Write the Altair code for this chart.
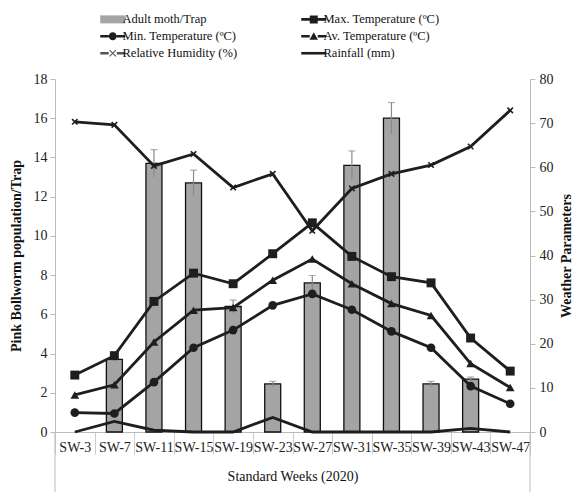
import altair as alt
import pandas as pd

# Standard weeks of 2020
weeks = ["SW-3", "SW-7", "SW-11", "SW-15", "SW-19", "SW-23",
         "SW-27", "SW-31", "SW-35", "SW-39", "SW-43", "SW-47"]

# Pink bollworm catches (left axis) with standard error
moth = [0, 3.7, 13.7, 12.7, 6.4, 2.45, 7.6, 13.6, 16.0, 2.45, 2.7, 0]
moth_err = [0, 0.1, 0.7, 0.65, 0.33, 0.13, 0.38, 0.73, 0.8, 0.13, 0.1, 0]

# Weather parameters (right axis)
max_temp = [12.9, 17.3, 29.6, 36.0, 33.6, 40.4, 47.4, 39.8, 35.2, 33.8, 21.3, 13.8]
min_temp = [4.4, 4.2, 11.3, 19.1, 23.1, 28.7, 31.3, 27.7, 22.8, 19.1, 10.4, 6.4]
av_temp = [8.4, 10.7, 20.4, 27.6, 28.2, 34.4, 39.2, 33.6, 29.1, 26.4, 15.5, 10.1]
rel_hum = [70.3, 69.6, 60.3, 63.0, 55.4, 58.5, 45.6, 55.2, 58.5, 60.5, 64.7, 72.9]
rainfall = [0, 2.4, 0.4, 0, 0, 3.3, 0, 0, 0, 0, 0.8, 0]

S_MOTH = "Adult moth/Trap"
S_MAX = "Max. Temperature (ºC)"
S_MIN = "Min. Temperature (ºC)"
S_AV = "Av. Temperature (ºC)"
S_RH = "Relative Humidity (%)"
S_RAIN = "Rainfall (mm)"
# legend fills column by column: left column, then right column
legend_order = [S_MOTH, S_MIN, S_RH, S_MAX, S_AV, S_RAIN]

FONT = "Liberation Serif"
INK = "#1e1e1e"
FRAME = "#bbbbbb"
W, H = 475, 353

moth_df = pd.DataFrame({"week": weeks, "moth": moth, "err": moth_err})
moth_df["lo"] = moth_df["moth"] - moth_df["err"]
moth_df["hi"] = moth_df["moth"] + moth_df["err"]

weather_df = pd.concat([
    pd.DataFrame({"week": weeks, "series": name, "value": vals})
    for name, vals in [(S_MAX, max_temp), (S_MIN, min_temp), (S_AV, av_temp),
                       (S_RH, rel_hum), (S_RAIN, rainfall)]
], ignore_index=True)

x_axis = alt.Axis(labelAngle=0, tickBand="extent", tickSize=22,
                  tickColor="#cccccc", domainColor=FRAME,
                  labelPadding=-14, titlePadding=15,
                  labelFont=FONT, titleFont=FONT,
                  labelFontSize=14, titleFontSize=14,
                  titleFontWeight="normal")
x_scale = alt.Scale(paddingInner=0, paddingOuter=0)


def xenc(**kw):
    return alt.X("week:N", sort=weeks, title="Standard Weeks (2020)",
                 scale=x_scale, axis=x_axis, **kw)


left_scale = alt.Scale(domain=[0, 18], nice=False)
right_scale = alt.Scale(domain=[0, 80], nice=False)
LEFT_TITLE = "Pink Bollworm population/Trap"
RIGHT_TITLE = "Weather Parameters"

left_axis = alt.Axis(orient="left", values=list(range(0, 19, 2)),
                     grid=False, tickSize=5, tickColor=FRAME,
                     domainColor=FRAME, labelPadding=3,
                     labelFont=FONT, titleFont=FONT,
                     labelFontSize=14, titleFontSize=14,
                     titleFontWeight="bold", titlePadding=10)
right_axis = alt.Axis(orient="right", values=list(range(0, 81, 10)),
                      grid=False, tickSize=5, tickColor=FRAME,
                      domainColor=FRAME, labelPadding=4,
                      labelFont=FONT, titleFont=FONT,
                      labelFontSize=14, titleFontSize=14,
                      titleFontWeight="bold", titleAngle=270,
                      titlePadding=20)


def yleft(field):
    return alt.Y(field, scale=left_scale, title=LEFT_TITLE, axis=left_axis)


def yright(field):
    return alt.Y(field, scale=right_scale, title=RIGHT_TITLE, axis=right_axis)


bars = alt.Chart(moth_df).transform_filter("datum.moth > 0").mark_bar(
    size=16, fill="#a4a4a4", stroke="#111111", strokeWidth=1.3
).encode(x=xenc(), y=yleft("moth:Q"))

err_rule = alt.Chart(moth_df).transform_filter("datum.err > 0").mark_rule(
    color="#8a8a8a", strokeWidth=1.2
).encode(x=xenc(), y=yleft("lo:Q"), y2="hi:Q")

err_cap = alt.Chart(moth_df).transform_filter("datum.err > 0").mark_tick(
    color="#8a8a8a", size=7, thickness=1.2
).encode(x=xenc(), y=yleft("hi:Q"))

# outer frame lines continuing below the category axis
frame_left = alt.Chart(pd.DataFrame({"week": [weeks[0]]})).mark_rule(
    color=FRAME, strokeWidth=1
).encode(x=xenc(bandPosition=0), y=alt.value(H), y2=alt.value(H + 60))
frame_right = alt.Chart(pd.DataFrame({"week": [weeks[-1]]})).mark_rule(
    color=FRAME, strokeWidth=1
).encode(x=xenc(bandPosition=1), y=alt.value(H), y2=alt.value(H + 60))

left = alt.layer(bars, err_rule, err_cap, frame_left, frame_right)

lines = alt.Chart(weather_df).mark_line(color=INK, strokeWidth=2.8).encode(
    x=xenc(), y=yright("value:Q"), detail="series:N",
)

marker_specs = [
    (S_MAX, dict(shape="square", filled=True, size=80, color=INK)),
    (S_MIN, dict(shape="circle", filled=True, size=75, color=INK)),
    (S_AV, dict(shape="triangle-up", filled=True, size=75, color=INK)),
    (S_RH, dict(shape="M-1,-1L1,1M-1,1L1,-1", filled=False, size=30,
                color=INK, strokeWidth=1.6)),
]
markers = [
    alt.Chart(weather_df).transform_filter(alt.datum.series == name)
    .mark_point(opacity=1, **style).encode(x=xenc(), y=yright("value:Q"))
    for name, style in marker_specs
]


# Legend glyphs (unit = 5 px): a line segment with the marker in the middle,
# drawn to the left of the nominal symbol box so the label sits right after it
def rect(x0, y0, x1, y1):
    return f"M{x0},{y0}H{x1}V{y1}H{x0}Z "


L, R, C, T, M = -3.2, 1.8, -0.7, 0.26, 0.8
seg = rect(L, -T, C - M, T) + rect(C + M, -T, R, T)
glyphs = {
    S_MOTH: rect(L, -M, R, M),
    S_MAX: seg + rect(C - M, -M, C + M, M),
    S_MIN: seg + (f"M{C - M},0A{M},{M} 0 1,1 {C + M},0"
                  f"A{M},{M} 0 1,1 {C - M},0Z"),
    S_AV: seg + f"M{C - 0.85},0.72L{C},-0.8L{C + 0.85},0.72Z",
    S_RH: seg + (f"M{C - 0.55},-0.7L{C},-0.15L{C + 0.55},-0.7L{C + 0.7},-0.55"
                 f"L{C + 0.15},0L{C + 0.7},0.55L{C + 0.55},0.7L{C},0.15"
                 f"L{C - 0.55},0.7L{C - 0.7},0.55L{C - 0.15},0L{C - 0.7},-0.55Z"),
    S_RAIN: rect(L, -T, R, T),
}
fills = {S_MOTH: "#a4a4a4", S_MAX: INK, S_MIN: INK, S_AV: INK,
         S_RH: "#555555", S_RAIN: INK}

legend_layer = alt.Chart(pd.DataFrame({"series": legend_order})).mark_point(
    filled=True, opacity=0, stroke=INK, strokeWidth=0.6
).encode(
    x=alt.value(0),
    y=alt.value(0),
    shape=alt.Shape("series:N", sort=legend_order,
                    scale=alt.Scale(domain=legend_order,
                                    range=[glyphs[s] for s in legend_order]),
                    legend=alt.Legend(title=None, orient="none",
                                      legendX=55, legendY=-66, columns=2,
                                      columnPadding=62, rowPadding=4,
                                      symbolSize=100, symbolOpacity=1,
                                      symbolStrokeColor=INK,
                                      symbolStrokeWidth=0.6,
                                      labelFont=FONT, labelLimit=300,
                                      labelFontSize=12.5,
                                      labelColor="#111111", labelOffset=0,
                                      padding=0)),
    fill=alt.Fill("series:N", sort=legend_order,
                  scale=alt.Scale(domain=legend_order,
                                  range=[fills[s] for s in legend_order]),
                  legend=None),
)

right = alt.layer(lines, *markers, legend_layer)

chart = alt.layer(left, right).resolve_scale(y="independent").properties(
    width=W, height=H,
    padding={"left": 55, "top": 79, "right": 46, "bottom": 60},
    autosize=alt.AutoSizeParams(type="none"),
).configure(
    font=FONT,
).configure_view(
    stroke=None,
).configure_axis(
    labelFont=FONT, titleFont=FONT, labelColor="#222222", titleColor="#111111",
).configure_legend(
    labelFont=FONT,
)

chart.save("out.html", embed_options={"renderer": "svg", "actions": False})
